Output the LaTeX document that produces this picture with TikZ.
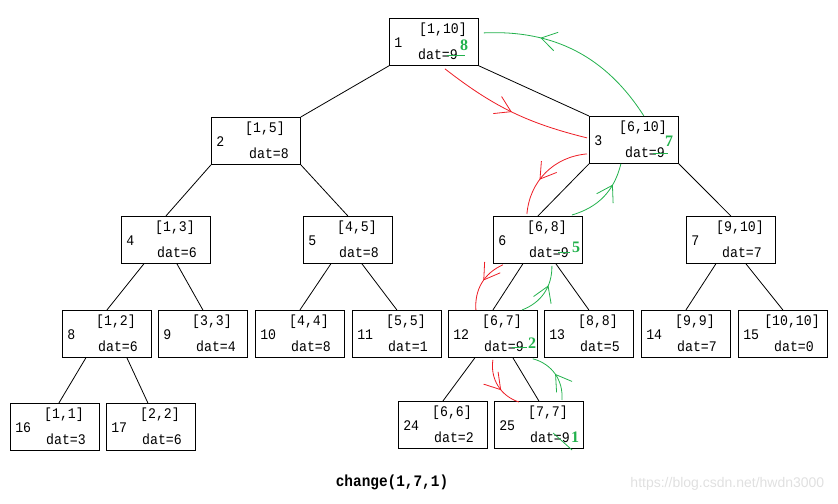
\documentclass[tikz,border=0pt]{standalone}
\usepackage{fontspec}
\setmainfont{Liberation Serif}
\setmonofont[FakeStretch=0.9]{Liberation Mono}
\newfontfamily\wmfont{Liberation Sans}
\usetikzlibrary{calc,arrows.meta,decorations.markings}

\definecolor{pathred}{HTML}{ED1C24}
\definecolor{pathgreen}{HTML}{22B14C}

\tikzset{
  seg/.style={rectangle,draw=black,line width=.6pt,minimum width=66.75pt,minimum height=35.25pt,inner sep=0pt,anchor=north west},
  lab/.style={inner sep=0pt,font=\ttfamily\fontsize{11}{13}\selectfont},
  newval/.style={inner sep=0pt,text=pathgreen,font=\bfseries\fontsize{12}{14}\selectfont},
  edge/.style={line width=.6pt},
  strike/.style={draw=pathgreen,line width=.6pt},
  gopath/.style={draw=pathred,line width=.6pt,postaction={decorate},
    decoration={markings,mark=at position #1 with {\arrow{Straight Barb[length=4mm,width=5mm]}}}},
  gopath/.default=.5,
  backpath/.style={draw=pathgreen,line width=.6pt,postaction={decorate},
    decoration={markings,mark=at position #1 with {\arrow{Straight Barb[length=4mm,width=5mm]}}}},
  backpath/.default=.5
}

% one segment tree node: [dat shift], index, x, y, range, dat
\newcommand{\segnode}[6][0]{%
  \node[seg] (n#2) at (#3,#4) {};
  \node[lab,anchor=west] (i#2) at ($(n#2.north west)+(5,25)$) {#2};
  \node[lab] (r#2) at ($(n#2.north west)+(54,12)$) {[#5]};
  \node[lab] (d#2) at ($(n#2.north west)+({56+#1},36)$) {dat=#6};
}

\begin{document}
\begin{tikzpicture}[x=.75pt,y=-.75pt]
  \useasboundingbox (0,0) rectangle (838,503);

  % tree nodes
  \segnode[-7]{1}{389}{18}{1,10}{9}
  \segnode[2]{2}{211}{117}{1,5}{8}
  \segnode{3}{589}{116}{6,10}{9}
  \segnode{4}{121}{216}{1,3}{6}
  \segnode{5}{303}{216}{4,5}{8}
  \segnode{6}{493}{216}{6,8}{9}
  \segnode{7}{686}{216}{9,10}{7}
  \segnode{8}{62}{310}{1,2}{6}
  \segnode[2]{9}{158}{310}{3,3}{4}
  \segnode{10}{255}{310}{4,4}{8}
  \segnode{11}{352}{310}{5,5}{1}
  \segnode{12}{448}{310}{6,7}{9}
  \segnode{13}{544}{310}{8,8}{5}
  \segnode{14}{641}{310}{9,9}{7}
  \segnode{15}{738}{310}{10,10}{0}
  \segnode{16}{10}{403}{1,1}{3}
  \segnode{17}{106}{403}{2,2}{6}
  \segnode{24}{398}{401}{6,6}{2}
  \segnode{25}{494}{401}{7,7}{9}

  % tree edges
  \draw[edge] (n1.south west) -- (n2.north east);
  \draw[edge] (n1.south east) -- (n3.north west);
  \draw[edge] (n2.south west) -- (n4.north);
  \draw[edge] (n2.south east) -- (n5.north);
  \draw[edge] (n3.south west) -- (n6.north);
  \draw[edge] (n3.south east) -- (n7.north);
  \draw[edge] ($(n4.south)+(-22,0)$) -- (n8.north);
  \draw[edge] ($(n4.south)+(11,0)$) -- (n9.north);
  \draw[edge] ($(n5.south)+(-17,0)$) -- (n10.north);
  \draw[edge] ($(n5.south)+(14,0)$) -- (n11.north);
  \draw[edge] ($(n6.south)+(-15,0)$) -- (n12.north);
  \draw[edge] ($(n6.south)+(18,0)$) -- (n13.north);
  \draw[edge] ($(n7.south)+(-15,0)$) -- (n14.north);
  \draw[edge] ($(n7.south)+(15,0)$) -- (n15.north);
  \draw[edge] ($(n8.south)+(-21,0)$) -- ($(n16.north)+(4,0)$);
  \draw[edge] ($(n8.south)+(20,0)$) -- ($(n17.north)+(-3,0)$);
  \draw[edge] ($(n12.south)+(-18,0)$) -- (n24.north);
  \draw[edge] ($(n12.south)+(20,0)$) -- (n25.north);

  % going down (red)
  \draw[gopath=.5] ($(n1.south)+(11,3)$) to[bend right=12] ($(n3.west)+(-2,-2)$);
  \draw[gopath=.6] ($(n3.west)+(-2,14)$) to[bend right=40] ($(n6.north)+(-11,-2)$);
  \draw[gopath=.45] ($(n6.south)+(-35,1)$) to[bend right=35] ($(n12.north)+(-17,0)$);
  \draw[gopath=.6] ($(n12.south)+(0,2)$) to[bend right=40] ($(n25.north)+(-20,1)$);

  % coming back up (green)
  \draw[backpath=.5] ($(n25.north)+(23,-1)$) to[bend right=40] ($(n12.south east)+(-5,1)$);
  \draw[backpath=.65] ($(n12.north)+(29,0)$) to[bend right=35] ($(n6.south)+(14,2)$);
  \draw[backpath=.7] ($(n6.north)+(34,-1)$) to[bend right=30] ($(n3.south)+(-13,0)$);
  \draw[backpath=.7] ($(n3.north)+(10,0)$) to[bend right=30] ($(n1.east)+(5,-9)$);

  % updated values
  \draw[strike] ($(d25.east)+(-17,-4)$) -- ($(d25.east)+(2,13)$);
  \node[newval] (v25) at ($(d25.east)+(5,0)$) {1};
  \draw[strike] ($(d12.east)+(-12,1)$) -- ($(d12.east)+(3,1)$);
  \node[newval] (v12) at ($(d12.east)+(8,-3)$) {2};
  \draw[strike] ($(d6.east)+(-11,0)$) -- ($(d6.east)+(1,0)$);
  \node[newval] (v6) at ($(d6.east)+(7,-5)$) {5};
  \draw[strike] ($(d3.east)+(-12,1)$) -- ($(d3.east)+(3,1)$);
  \node[newval] (v3) at ($(d3.east)+(4,-11)$) {7};
  \draw[strike] ($(d1.east)+(-11,1)$) -- ($(d1.east)+(7,1)$);
  \node[newval] (v1) at ($(d1.east)+(6,-9)$) {8};

  % caption
  \node[font=\ttfamily\bfseries\fontsize{12}{14}\selectfont] (cap) at (392,482) {change(1,7,1)};
  \node[text=black!12,font=\wmfont\fontsize{10.5}{12}\selectfont,anchor=east] (wm) at (829,484) {https://blog.csdn.net/hwdn3000};
\end{tikzpicture}
\end{document}
